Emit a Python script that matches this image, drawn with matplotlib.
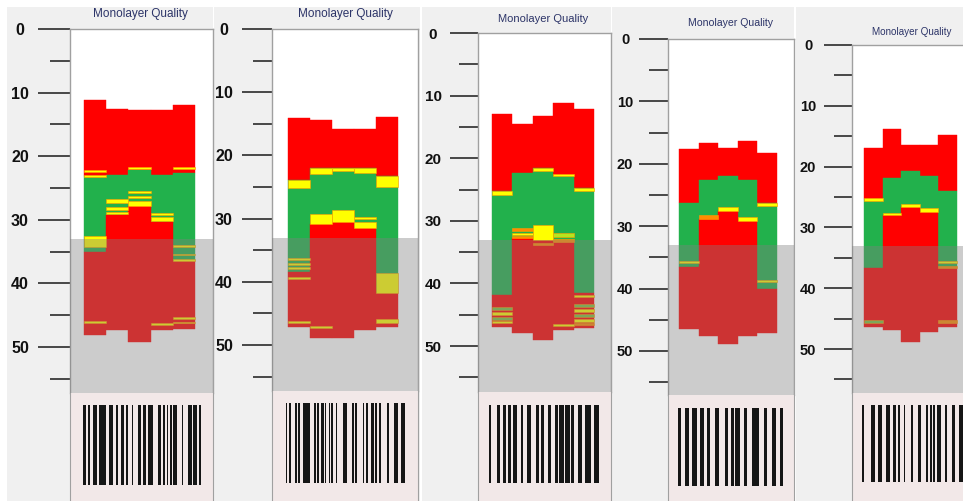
import matplotlib
matplotlib.use("Agg")
import matplotlib.pyplot as plt
from matplotlib import font_manager
from matplotlib.patches import Rectangle

# ---------------------------------------------------------------- data
# Each plate column: red cap from `top` to `green`, green band down to
# `inner`, then red again down to `bottom` (depth units, 0 at the top).
p1_top    = [11.1, 12.5, 12.7, 12.7, 11.9]
p1_green  = [23.1, 23.0, 22.2, 23.0, 22.6]
p1_inner  = [35.0, 29.2, 27.8, 30.3, 36.5]
p1_bottom = [48.1, 47.3, 49.2, 47.3, 47.1]

p2_top    = [14.1, 14.4, 15.9, 15.9, 13.9]
p2_green  = [23.9, 22.0, 22.0, 22.0, 23.3]
p2_inner  = [38.4, 30.9, 30.5, 31.5, 41.7]
p2_bottom = [47.1, 48.9, 48.9, 47.6, 47.1]

p3_top    = [12.9, 14.5, 13.3, 11.2, 12.2]
p3_green  = [25.3, 22.3, 21.6, 22.8, 24.7]
p3_inner  = [41.9, 32.8, 33.1, 33.4, 41.6]
p3_bottom = [47.0, 48.0, 49.0, 47.4, 47.2]

p4_top    = [17.7, 16.6, 17.4, 16.4, 18.2]
p4_green  = [26.3, 22.6, 22.0, 22.6, 26.3]
p4_inner  = [36.5, 28.9, 27.5, 29.2, 40.0]
p4_bottom = [46.5, 47.6, 48.9, 47.6, 47.1]

p5_top    = [17.0, 13.8, 16.4, 16.4, 14.8]
p5_green  = [25.4, 21.8, 20.7, 21.5, 24.0]
p5_inner  = [36.7, 28.0, 26.7, 27.5, 36.5]
p5_bottom = [46.3, 46.9, 48.8, 47.2, 46.3]

# thin marker layers: (column, from, to, kind)
p1_stripes = [(0, 22.2, 22.5, "y"), (0, 22.9, 23.2, "y"), (0, 32.6, 34.3, "y"), (0, 45.9, 46.3, "y"),
              (1, 26.8, 27.3, "y"), (1, 28.0, 28.4, "y"), (1, 28.7, 29.1, "y"),
              (2, 21.7, 22.0, "y"), (2, 25.4, 25.8, "y"), (2, 26.2, 26.5, "y"), (2, 27.1, 27.8, "y"),
              (3, 28.9, 29.2, "y"), (3, 29.6, 30.2, "y"), (3, 46.3, 46.6, "y"),
              (4, 21.7, 22.0, "y"), (4, 33.9, 34.2, "y"), (4, 35.3, 35.6, "y"), (4, 36.1, 36.4, "y"),
              (4, 45.3, 45.6, "y"), (4, 46.0, 46.3, "y")]
p2_stripes = [(0, 23.9, 25.2, "y"), (0, 36.3, 36.6, "y"), (0, 37.0, 37.4, "y"), (0, 37.7, 38.0, "y"),
              (0, 39.2, 39.5, "y"), (0, 46.2, 46.5, "y"),
              (1, 22.0, 22.9, "y"), (1, 29.2, 30.9, "y"), (1, 47.0, 47.3, "y"),
              (2, 22.0, 22.4, "y"), (2, 28.7, 30.5, "y"),
              (3, 22.0, 22.8, "y"), (3, 29.7, 30.1, "y"), (3, 30.5, 31.5, "y"),
              (4, 23.3, 25.0, "y"), (4, 38.6, 41.7, "y"), (4, 45.9, 46.5, "y")]
p3_stripes = [(0, 25.3, 25.8, "y"), (0, 43.8, 44.2, "g"), (0, 44.6, 45.0, "y"), (0, 45.4, 45.8, "g"),
              (0, 46.0, 46.3, "y"),
              (1, 31.2, 31.6, "o"), (1, 31.9, 32.3, "y"), (1, 32.5, 32.8, "o"),
              (2, 21.6, 22.0, "y"), (2, 30.7, 33.0, "y"), (2, 33.6, 33.9, "o"),
              (3, 22.6, 22.9, "y"), (3, 32.0, 32.6, "l"), (3, 32.9, 33.4, "o"), (3, 46.5, 46.8, "y"),
              (4, 24.7, 25.3, "y"), (4, 41.8, 42.1, "y"), (4, 43.3, 43.7, "g"), (4, 44.1, 44.5, "y"),
              (4, 44.9, 45.3, "g"), (4, 45.7, 46.1, "y"), (4, 46.3, 46.6, "o")]
p4_stripes = [(0, 35.6, 35.9, "y"), (1, 28.2, 28.9, "o"), (2, 27.0, 27.5, "y"), (3, 28.6, 29.2, "y"),
              (4, 26.3, 26.7, "y"), (4, 38.6, 38.9, "y")]
p5_stripes = [(0, 25.2, 25.6, "y"), (0, 45.3, 45.7, "g"), (1, 27.7, 28.0, "y"), (2, 26.2, 26.7, "y"),
              (3, 26.8, 27.5, "y"), (4, 35.5, 35.8, "y"), (4, 36.3, 36.7, "o"), (4, 45.3, 45.7, "o")]

# barcode run lengths, alternating bar / gap
p1_code = [3, 2, 2, 3, 4, 2, 7, 3, 4, 3, 2, 3, 3, 2, 2, 4, 1, 5, 3, 2, 3, 2, 5, 5, 3, 2, 2,
           2, 1, 2, 2, 1, 4, 5, 1, 5, 4, 1, 4, 2, 2]
p2_code = [1.3, 2, 1.4, 4.3, 2, 1, 2, 2.7, 6.6, 4, 2, 1, 2, 2.4, 2.5, 1, 1.8, 2.3, 1.5, 1.2,
           1.7, 2.3, 1.7, 6, 4, 5, 2, 1, 2, 5, 1.6, 1.7, 1.7, 3.3, 3, 1, 2.5, 1, 2.5, 5.7,
           2.3, 4.4, 4.6, 2.7, 4]
p3_code = [2.3, 5.4, 2.6, 2.4, 3.3, 1.7, 3, 1, 4.3, 3.3, 1.7, 4, 3.4, 5, 2.7, 2, 2.6, 4,
           2.4, 3.3, 3, 1.3, 4, 1.7, 4, 1, 3.3, 3.4, 3.3, 3.3, 5, 3.4, 4.3]
p4_code = [3, 4.3, 3.4, 3.3, 5, 3.3, 3.4, 3.3, 3.3, 4.4, 4, 6.6, 2.4, 3.6, 2.4, 1.6, 5, 3.4,
           3.3, 5, 6.7, 4.6, 3.4, 5, 4.3, 3.3, 3.4]
p5_code = [1.7, 6, 4, 2.6, 3.4, 3.3, 4, 2.7, 2.3, 1.7, 1.6, 3.4, 1.6, 5, 1.4, 5, 2.4, 4,
           2.5, 1.3, 2, 1, 1.5, 1.7, 3.3, 4, 1.7, 4, 3.3, 3, 3.3, 3, 3, 2, 3]

depth_ticks = [0, 10, 20, 30, 40, 50]
depth_minor = [5, 15, 25, 35, 45, 55]
title_text = "Monolayer Quality"
shade_from = 33.0

panels_data = [
    (p1_top, p1_green, p1_inner, p1_bottom, p1_stripes, p1_code),
    (p2_top, p2_green, p2_inner, p2_bottom, p2_stripes, p2_code),
    (p3_top, p3_green, p3_inner, p3_bottom, p3_stripes, p3_code),
    (p4_top, p4_green, p4_inner, p4_bottom, p4_stripes, p4_code),
    (p5_top, p5_green, p5_inner, p5_bottom, p5_stripes, p5_code),
]

# ---------------------------------------------------------------- layout (pixels)
W, H = 963, 501
layout = [
    dict(bg=(7, 213), plot=(70, 213), y0=29, ppu=6.36, yend=393, col0=84, colw=22.2,
         tick=(32, 20), ldx=50, title=(140, 14, 8.5), bc=(83, 201, 405, 485), lfs=11.5),
    dict(bg=(214, 420), plot=(272, 418), y0=29, ppu=6.32, yend=391, col0=288, colw=22.0,
         tick=(30, 19), ldx=48, title=(345, 14, 8.5), bc=(286, 405, 403, 483), lfs=11.5),
    dict(bg=(422, 611), plot=(478, 611), y0=33, ppu=6.26, yend=392, col0=492, colw=20.4,
         tick=(28, 19), ldx=45, title=(543, 19, 8.0), bc=(489, 599, 405, 483), lfs=11),
    dict(bg=(612, 794), plot=(668, 794), y0=39, ppu=6.24, yend=395, col0=679, colw=19.6,
         tick=(29, 19), ldx=43, title=(730, 23, 7.6), bc=(678, 783, 408, 486), lfs=10.5),
    dict(bg=(796, 970), plot=(852, 975), y0=45, ppu=6.08, yend=393, col0=864, colw=18.6,
         tick=(28, 18), ldx=44, title=(912, 32, 7.1), bc=(862, 975, 405, 482), lfs=10.5),
]

RED = "#ff0000"
GREEN = "#22b14c"
STRIPE = {"y": "#ffff00", "o": "#ff8c00", "g": "#7cc242", "l": "#b5e61d"}
STRIPE_EDGE = "#ff9c00"
FRAME = "#a0a0a0"

installed = {f.name for f in font_manager.fontManager.ttflist}
num_font = "Liberation Sans" if "Liberation Sans" in installed else "DejaVu Sans"
title_font = "Liberation Sans" if "Liberation Sans" in installed else "DejaVu Sans"

fig = plt.figure(figsize=(W / 100, H / 100), dpi=100)
fig.patch.set_facecolor("white")


def px_axes(x0, y0, x1, y1, **kw):
    return fig.add_axes([x0 / W, 1 - y1 / H, (x1 - x0) / W, (y1 - y0) / H], **kw)


# panel backgrounds
bg = px_axes(0, 0, W, H)
bg.set_xlim(0, W)
bg.set_ylim(H, 0)
bg.axis("off")
bg.set_zorder(-5)
for L in layout:
    x0, x1 = L["bg"]
    bg.add_patch(Rectangle((x0, 7), x1 - x0, H - 7, facecolor="#f0f0f0", edgecolor="none"))

for L, (top, green, inner, bottom, stripes, code) in zip(layout, panels_data):
    pl, pr = L["plot"]
    ymax = (L["yend"] - L["y0"]) / L["ppu"]
    ax = px_axes(pl, L["y0"], pr, L["yend"])
    ax.set_facecolor("white")
    ax.set_ylim(ymax, 0)
    ax.set_xlim(-(L["col0"] - pl) / L["colw"], (pr - L["col0"]) / L["colw"])

    xs = list(range(len(top)))
    ax.bar(xs, [g - t for g, t in zip(green, top)], bottom=top, width=1, align="edge",
           color=RED, edgecolor=RED, linewidth=0.3, zorder=2)
    ax.bar(xs, [i - g for i, g in zip(inner, green)], bottom=green, width=1, align="edge",
           color=GREEN, edgecolor=GREEN, linewidth=0.3, zorder=2)
    ax.bar(xs, [b - i for b, i in zip(bottom, inner)], bottom=inner, width=1, align="edge",
           color=RED, edgecolor=RED, linewidth=0.3, zorder=2)
    for c, a, b, kind in stripes:
        ax.bar([c], [b - a], bottom=[a], width=1, align="edge", color=STRIPE[kind],
               edgecolor=STRIPE_EDGE, linewidth=0.4, zorder=3)

    ax.axhspan(shade_from, ymax, color="#808080", alpha=0.4, linewidth=0, zorder=4)

    for s in ("left", "top", "right"):
        ax.spines[s].set_color(FRAME)
        ax.spines[s].set_linewidth(1.0)
    ax.spines["bottom"].set_visible(False)
    ax.set_xticks([])
    ax.set_yticks(depth_ticks)
    ax.set_yticks(depth_minor, minor=True)
    tmaj, tmin = L["tick"]
    ax.tick_params(axis="y", which="major", direction="out", length=tmaj * 0.72, width=1.3,
                   color="#3a3a3a", pad=(L["ldx"] - tmaj) * 0.72, labelsize=L["lfs"],
                   labelcolor="#111111")
    ax.tick_params(axis="y", which="minor", direction="out", length=tmin * 0.72, width=1.3,
                   color="#3a3a3a")
    for lab in ax.get_yticklabels():
        lab.set_fontfamily(num_font)
        lab.set_fontweight("bold")
        lab.set_ha("center")

    # barcode strip under the plate
    bx0, bx1, by0, by1 = L["bc"]
    bax = px_axes(pl, L["yend"], pr, H + 10)
    bax.set_facecolor("#f2e8e8")
    bax.set_xlim(pl, pr)
    bax.set_ylim(H + 10, L["yend"])
    for s in ("left", "right"):
        bax.spines[s].set_color(FRAME)
    for s in ("top", "bottom"):
        bax.spines[s].set_visible(False)
    bax.set_xticks([])
    bax.set_yticks([])
    scale = (bx1 - bx0) / sum(code)
    pos = bx0
    lefts, widths = [], []
    for k, run in enumerate(code):
        if k % 2 == 0:
            lefts.append(pos)
            widths.append(run * scale)
        pos += run * scale
    bax.bar(lefts, [by1 - by0] * len(lefts), bottom=by0, width=widths, align="edge",
            color="#151515", linewidth=0)

    tx, ty, tfs = L["title"]
    fig.text(tx / W, 1 - ty / H, title_text, ha="center", va="center", fontsize=tfs,
             color="#2c3468", family=title_font)

fig.savefig("out.png", dpi=100)
